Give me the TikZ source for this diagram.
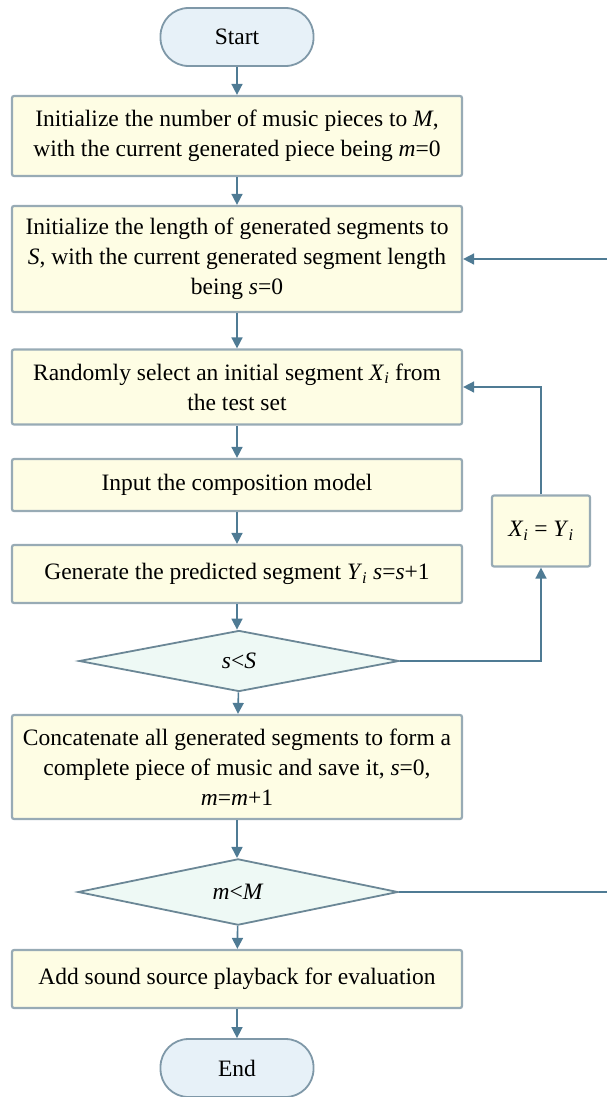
\documentclass[tikz,border=0pt]{standalone}
\usepackage{fontspec}
\setmainfont{Liberation Serif}
\usetikzlibrary{shapes.geometric,arrows.meta}
\definecolor{boxfill}{HTML}{FEFDE4}
\definecolor{boxline}{HTML}{98ABB5}
\definecolor{termfill}{HTML}{E7F1F8}
\definecolor{termline}{HTML}{7F98A8}
\definecolor{diafill}{HTML}{EEF9F5}
\definecolor{dialine}{HTML}{6B8796}
\definecolor{arr}{HTML}{4F7B94}
\tikzset{
  procbox/.style={draw=boxline, fill=boxfill, line width=2.2pt, rounded corners=2pt,
    minimum width=450pt, align=center, inner sep=0pt, font=\fontsize{23.5}{30}\selectfont},
  term/.style={draw=termline, fill=termfill, line width=1.8pt, rounded corners=28pt,
    minimum width=153pt, minimum height=58pt, inner sep=0pt, font=\fontsize{23.5}{28}\selectfont},
  dec/.style={diamond, draw=dialine, fill=diafill, line width=1.8pt, minimum width=320pt,
    minimum height=61pt, inner sep=0pt, font=\fontsize{23.5}{28}\selectfont},
  arrow/.style={draw=arr, line width=1.6pt, -{Triangle[length=11pt,width=11pt]}},
  link/.style={draw=arr, line width=1.6pt}
}
\newcommand\iv[1]{\textit{#1}}
\begin{document}
\begin{tikzpicture}[x=1pt,y=-1pt]
\useasboundingbox (0,0) rectangle (606,1097);
\node[term] (start) at (237,37) {Start};
\node[procbox, minimum height=80pt] (b1) at (237,136)
  {Initialize the number of music pieces to \iv{M},\\with the current generated piece being \iv{m}=0};
\node[procbox, minimum height=106pt] (b2) at (237,259)
  {Initialize the length of generated segments to\\\iv{S}, with the current generated segment length\\being \iv{s}=0};
\node[procbox, minimum height=75pt] (b3) at (237,387)
  {Randomly select an initial segment \iv{X}\textsubscript{\iv{i}} from\\the test set};
\node[procbox, minimum height=52pt] (b4) at (237,485) {Input the composition model};
\node[procbox, minimum height=58pt] (b5) at (237,574)
  {Generate the predicted segment \iv{Y}\textsubscript{\iv{i}} \iv{s}=\iv{s}+1};
\node[dec] (d1) at (239,661) {\iv{s}<\iv{S}};
\node[procbox, minimum width=98pt, minimum height=71pt] (xy) at (541,531)
  {\iv{X}\textsubscript{\iv{i}} = \iv{Y}\textsubscript{\iv{i}}};
\node[procbox, minimum height=104pt] (b6) at (237,767)
  {Concatenate all generated segments to form a\\complete piece of music and save it, \iv{s}=0,\\\iv{m}=\iv{m}+1};
\node[dec] (d2) at (238,892) {\iv{m}<\iv{M}};
\node[procbox, minimum height=58pt] (b7) at (237,979) {Add sound source playback for evaluation};
\node[term] (end) at (237,1068) {End};
\coordinate (r) at (608,892);
\draw[arrow] (start) -- (b1);
\draw[arrow] (b1) -- (b2);
\draw[arrow] (b2) -- (b3);
\draw[arrow] (b3) -- (b4);
\draw[arrow] (b4) -- (b5);
\draw[arrow] (b5) -- (b5|-d1.north);
\draw[arrow] (d1) -- (b6);
\draw[arrow] (b6) -- (b6|-d2.north);
\draw[arrow] (d2) -- (b7);
\draw[arrow] (b7) -- (end);
\draw[arrow] (d1.east) -| (xy.south);
\draw[arrow] (xy.north) |- (b3.east);
\draw[arrow] (d2.east) -- (r) |- (b2.east);
\end{tikzpicture}
\end{document}
